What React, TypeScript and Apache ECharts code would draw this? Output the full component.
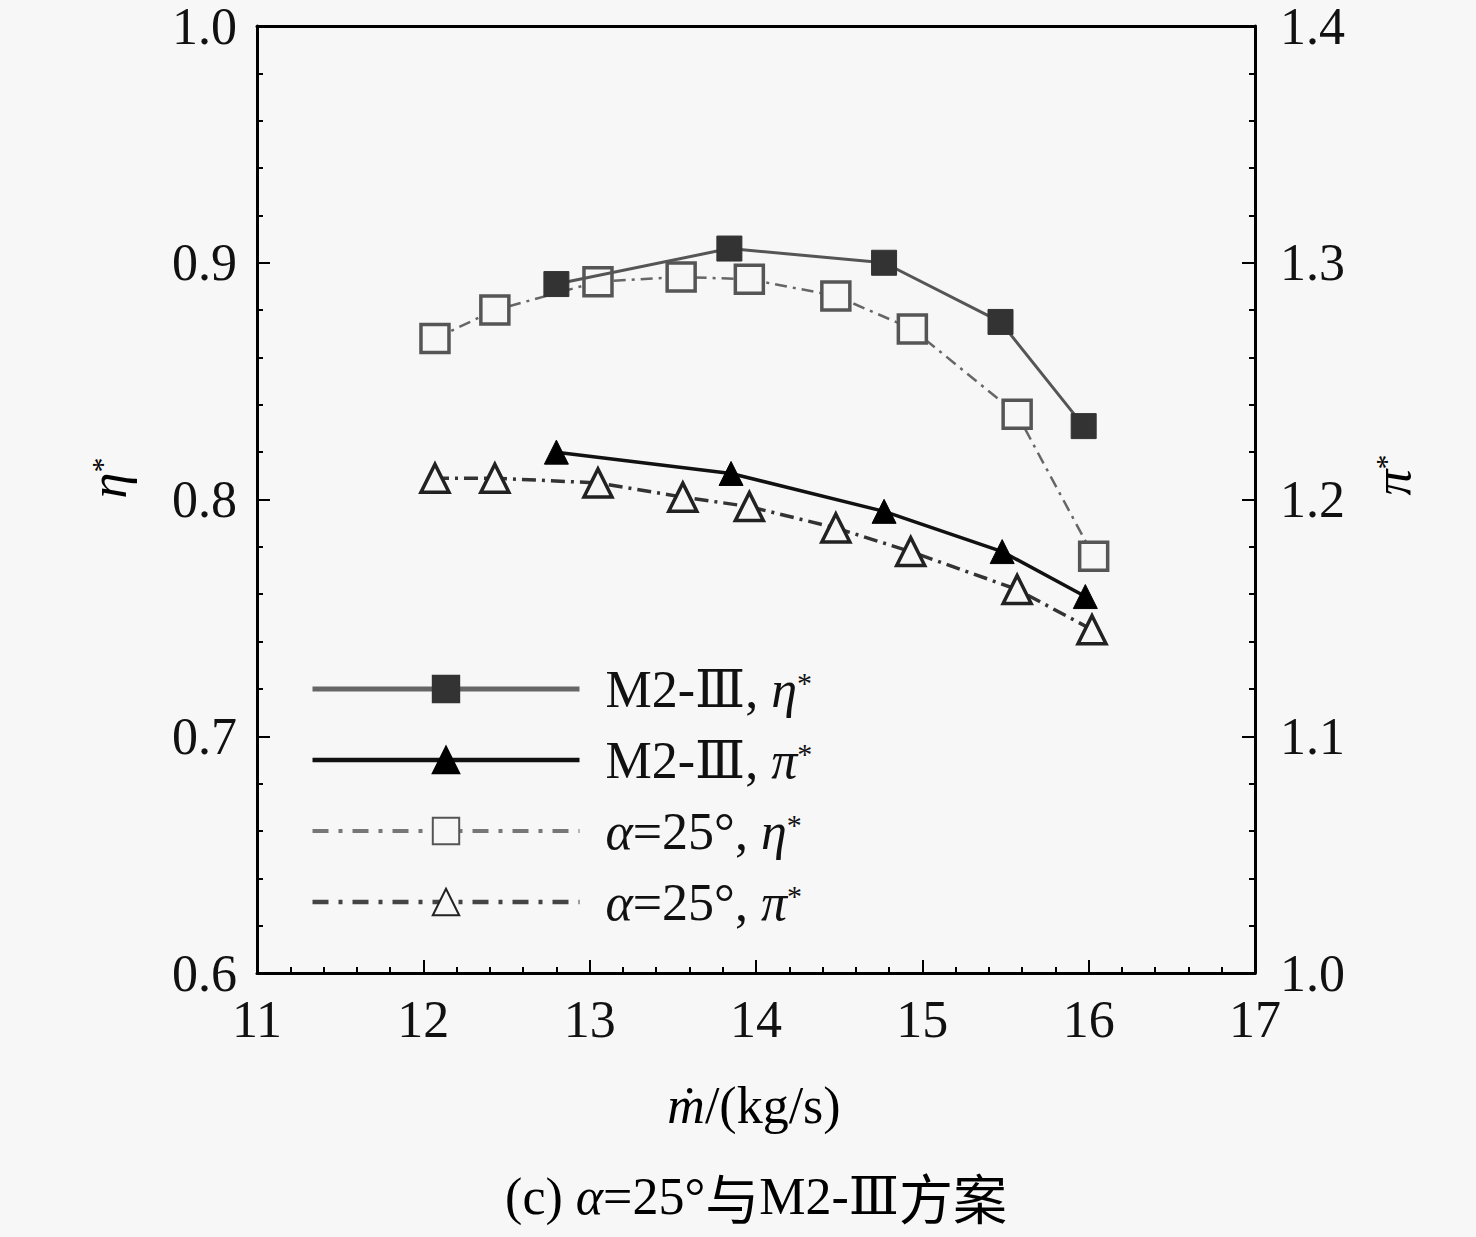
import React, { useEffect, useRef } from "react";
import * as echarts from "echarts";

const xTicks = [11, 12, 13, 14, 15, 16, 17];
const etaTicks = [0.6, 0.7, 0.8, 0.9, 1.0];
const piTicks = [1.0, 1.1, 1.2, 1.3, 1.4];

const seriesNames = ["M2-Ⅲ, η*", "M2-Ⅲ, π*", "α=25°, η*", "α=25°, π*"];

const m2EtaX = [12.8, 13.84, 14.77, 15.47, 15.97];
const m2EtaY = [0.891, 0.906, 0.9, 0.875, 0.831];
const m2PiX = [12.8, 13.85, 14.77, 15.48, 15.98];
const m2PiY = [1.22, 1.211, 1.195, 1.178, 1.159];
const a25EtaX = [12.07, 12.43, 13.05, 13.55, 13.96, 14.48, 14.94, 15.57, 16.03];
const a25EtaY = [0.868, 0.88, 0.892, 0.894, 0.893, 0.886, 0.872, 0.836, 0.776];
const a25PiX = [12.07, 12.43, 13.05, 13.56, 13.96, 14.48, 14.93, 15.57, 16.02];
const a25PiY = [1.209, 1.209, 1.207, 1.201, 1.197, 1.188, 1.178, 1.162, 1.145];

const FONT = "'Liberation Serif', 'Times New Roman', 'DejaVu Serif', 'Noto Sans CJK SC', serif";
const FS = 52;

const zip = (xs: number[], ys: number[]) => xs.map((x, i) => [x, ys[i]]);

const rich = {
  sp: { width: 21, fontSize: FS, lineHeight: 44 },
  r: { fontFamily: FONT, fontSize: FS, color: "#111", lineHeight: 44 },
  c: { fontFamily: "'Noto Sans CJK SC', sans-serif", fontSize: 54, color: "#111", lineHeight: 44 },
  i: { fontFamily: FONT, fontSize: FS, fontStyle: "italic", color: "#111", lineHeight: 44 },
  s: { fontFamily: FONT, fontSize: 30, color: "#111", verticalAlign: "top", lineHeight: 30 },
};

const legendRich: Record<string, string> = {
  "M2-Ⅲ, η*": "{sp|}{r|M2-Ⅲ, }{i|η}{s|*}",
  "M2-Ⅲ, π*": "{sp|}{r|M2-Ⅲ, }{i|π}{s|*}",
  "α=25°, η*": "{sp|}{i|α}{r|=25°, }{i|η}{s|*}",
  "α=25°, π*": "{sp|}{i|α}{r|=25°, }{i|π}{s|*}",
};

export default function App() {
  const ref = useRef<HTMLDivElement>(null);
  useEffect(() => {
    document.body.style.margin = "0";
    const chart = echarts.init(ref.current!, null, { renderer: "svg" });
    const axisLabel = { fontFamily: FONT, fontSize: FS, color: "#111", lineHeight: 40 };
    const option: any = {
      animation: false,
      backgroundColor: "#f7f7f7",
      grid: { left: 257, top: 25, right: 221, bottom: 264, containLabel: false },
      xAxis: [
        {
          type: "value",
          min: 11,
          max: 17,
          interval: 1,
          position: "bottom",
          axisLine: { show: true, onZero: false, lineStyle: { color: "#000", width: 3 } },
          axisTick: { show: true, inside: true, length: 13, lineStyle: { color: "#000", width: 2 } },
          minorTick: { show: true, splitNumber: 5, length: 6, lineStyle: { color: "#000", width: 2 } },
          splitLine: { show: false },
          axisLabel: { ...axisLabel, margin: 26, formatter: (v: number) => (xTicks.includes(v) ? String(v) : "") },
        },
        {
          type: "value",
          min: 11,
          max: 17,
          position: "top",
          axisLine: { show: true, onZero: false, lineStyle: { color: "#000", width: 3 } },
          axisTick: { show: false },
          axisLabel: { show: false },
          splitLine: { show: false },
        },
      ],
      yAxis: [
        {
          type: "value",
          min: 0.6,
          max: 1.0,
          interval: 0.1,
          position: "left",
          axisLine: { show: true, onZero: false, lineStyle: { color: "#000", width: 3 } },
          axisTick: { show: true, inside: true, length: 13, lineStyle: { color: "#000", width: 2 } },
          minorTick: { show: true, splitNumber: 5, length: 6, lineStyle: { color: "#000", width: 2 } },
          splitLine: { show: false },
          axisLabel: {
            ...axisLabel,
            margin: 20,
            formatter: (v: number) => {
              const t = etaTicks.find((e) => Math.abs(e - v) < 1e-6);
              return t === undefined ? "" : t.toFixed(1);
            },
          },
        },
        {
          type: "value",
          min: 1.0,
          max: 1.4,
          interval: 0.1,
          position: "right",
          axisLine: { show: true, onZero: false, lineStyle: { color: "#000", width: 3 } },
          axisTick: { show: true, inside: true, length: 13, lineStyle: { color: "#000", width: 2 } },
          minorTick: { show: true, splitNumber: 5, length: 6, lineStyle: { color: "#000", width: 2 } },
          splitLine: { show: false },
          axisLabel: {
            ...axisLabel,
            margin: 25,
            formatter: (v: number) => {
              const t = piTicks.find((e) => Math.abs(e - v) < 1e-6);
              return t === undefined ? "" : t.toFixed(1);
            },
          },
        },
      ],
      legend: {
        orient: "vertical",
        left: 305,
        top: 658,
        itemWidth: 267,
        itemHeight: 33,
        itemGap: 19,
        data: [
          { name: seriesNames[0], lineStyle: { width: 5, color: "#666" } },
          { name: seriesNames[1], lineStyle: { width: 4.5, color: "#111" } },
          { name: seriesNames[2], lineStyle: { width: 4, color: "#777", type: [16, 10, 4, 10] } },
          { name: seriesNames[3], lineStyle: { width: 4.5, color: "#444", type: [16, 10, 4, 10] } },
        ],
        formatter: (name: string) => legendRich[name] || name,
        textStyle: { fontFamily: FONT, fontSize: FS, color: "#111", rich },
        selectedMode: false,
      },
      series: [
        {
          name: seriesNames[0],
          type: "line",
          xAxisIndex: 0,
          yAxisIndex: 0,
          data: zip(m2EtaX, m2EtaY),
          symbol: "rect",
          symbolSize: 25,
          lineStyle: { color: "#555", width: 3 },
          itemStyle: { color: "#333", borderColor: "#333", borderWidth: 1 },
          z: 4,
        },
        {
          name: seriesNames[1],
          type: "line",
          xAxisIndex: 0,
          yAxisIndex: 1,
          data: zip(m2PiX, m2PiY),
          symbol: "triangle",
          symbolSize: 24,
          lineStyle: { color: "#111", width: 3.5 },
          itemStyle: { color: "#000", borderColor: "#000", borderWidth: 1 },
          z: 4,
        },
        {
          name: seriesNames[2],
          type: "line",
          xAxisIndex: 0,
          yAxisIndex: 0,
          data: zip(a25EtaX, a25EtaY),
          symbol: "rect",
          symbolSize: 28,
          lineStyle: { color: "#666", width: 2.5, type: [12, 6, 3, 6] },
          itemStyle: { color: "#f7f7f7", borderColor: "#555", borderWidth: 3.5 },
          z: 3,
        },
        {
          name: seriesNames[3],
          type: "line",
          xAxisIndex: 0,
          yAxisIndex: 1,
          data: zip(a25PiX, a25PiY),
          symbol: "triangle",
          symbolSize: 28,
          lineStyle: { color: "#333", width: 3.5, type: [14, 6, 3, 6] },
          itemStyle: { color: "#f7f7f7", borderColor: "#222", borderWidth: 3.5 },
          z: 3,
        },
      ],
      graphic: [
        {
          type: "text",
          x: 108,
          y: 478,
          rotation: Math.PI / 2,
          style: {
            text: "{i|η}{s|*}",
            rich,
            align: "center",
            verticalAlign: "middle",
          },
        },
        {
          type: "text",
          x: 1392,
          y: 475,
          rotation: Math.PI / 2,
          style: {
            text: "{i|π}{s|*}",
            rich,
            align: "center",
            verticalAlign: "middle",
          },
        },
        {
          type: "text",
          x: 754,
          y: 1105,
          style: {
            text: "{i|ṁ}{r|/(kg/s)}",
            rich,
            align: "center",
            verticalAlign: "middle",
          },
        },
        {
          type: "text",
          x: 756,
          y: 1196,
          style: {
            text: "{r|(c) }{i|α}{r|=25°}{c|与}{r|M2-Ⅲ}{c|方案}",
            rich,
            align: "center",
            verticalAlign: "middle",
          },
        },
      ],
    };
    chart.setOption(option);
    return () => chart.dispose();
  }, []);
  return <div ref={ref} style={{ width: 1476, height: 1237 }} />;
}
